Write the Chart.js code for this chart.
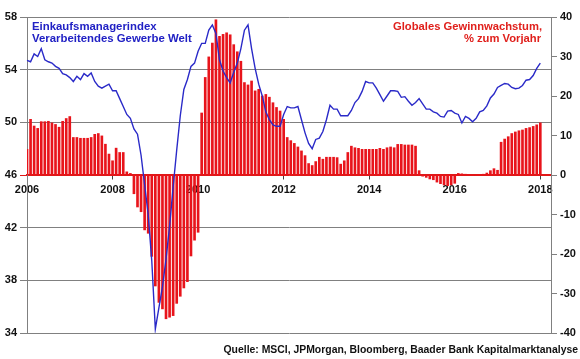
<!DOCTYPE html>
<html>
<head>
<meta charset="utf-8">
<script src="https://cdn.jsdelivr.net/npm/chart.js@4"></script>
<style>
  html, body { margin: 0; padding: 0; background: #fff; }
</style>
</head>
<body>
<canvas id="myChart" width="580" height="359"></canvas>
<script>
// Monatsdaten Jan 2006 bis Jan 2018, Achse reicht bis Apr 2018
var startYear = 2006;
var axisMonths = 148;
var tickYears = [2006, 2008, 2010, 2012, 2014, 2016, 2018];

// Einkaufsmanagerindex Verarbeitendes Gewerbe Welt (linke Achse)
var pmi = [
  54.7, 54.6, 55.2, 55.0, 55.6, 54.75, 54.6, 54.5, 54.25, 54.1, 53.7, 53.6,
  53.4, 53.1, 53.5, 53.25, 53.7, 53.5, 53.75, 53.1, 52.75, 52.6, 52.75, 52.9,
  52.4, 52.4, 51.8, 51.2, 50.6, 50.3, 49.5, 49.1, 47.5, 45.25, 43.0, 39.5,
  34.3, 35.9, 37.5, 39.6, 42.1, 45.1, 47.9, 50.5, 52.5, 53.25, 54.25, 54.5,
  55.4, 56.0, 56.0, 57.0, 57.4, 56.75, 54.75, 53.9, 53.4, 53.0, 53.8, 54.5,
  55.6, 57.0, 57.4, 55.6, 54.1, 52.9, 52.0, 50.8, 50.2, 49.8, 49.7, 49.7,
  50.6, 51.2, 51.1, 51.1, 51.2, 50.2, 49.2, 48.4, 48.0, 48.7, 48.8, 49.3,
  50.2, 51.3, 51.0, 51.0, 50.5, 50.5, 50.5, 50.9, 51.5, 51.8, 52.35, 53.1,
  53.0, 53.0, 52.6, 52.1, 51.6, 52.0, 52.4, 52.4, 52.35, 51.9, 51.95, 51.6,
  51.3, 51.5, 51.8, 51.4, 51.0, 51.0, 50.8, 50.7, 50.45, 50.4, 50.85, 50.9,
  50.7, 50.6, 49.95, 50.45, 50.3, 50.05, 50.3, 50.8, 50.9, 51.25, 51.85, 52.15,
  52.65, 52.8, 52.95, 52.9, 52.65, 52.55, 52.6, 52.8, 53.2, 53.25, 53.55, 54.1,
  54.5
];

// Globales Gewinnwachstum, % zum Vorjahr (rechte Achse)
var gewinn = [
  6.5, 14.1, 12.4, 11.8, 13.5, 13.5, 13.6, 13.2, 12.8, 12.1, 13.6, 14.3,
  14.8, 9.5, 9.5, 9.3, 9.3, 9.3, 9.5, 10.3, 10.5, 9.9, 7.8, 5.3,
  3.6, 6.8, 5.7, 5.7, 0.8, 0.4, -4.75, -8.1, -9.3, -13.9, -14.75, -20.6,
  -28.1, -32.25, -33.9, -36.4, -36.0, -35.6, -32.5, -30.7, -28.6, -27.0, -20.5, -16.5,
  -14.5, 15.7, 24.7, 29.9, 33.4, 39.3, 35.1, 35.6, 36.0, 35.5, 33.0, 31.2,
  28.8, 23.4, 22.8, 23.8, 21.3, 21.7, 20.0, 20.4, 19.7, 18.3, 17.1, 16.2,
  14.1, 9.5, 8.7, 8.0, 7.1, 6.1, 4.9, 2.9, 2.4, 3.4, 4.5, 4.0,
  4.5, 4.5, 4.5, 4.4, 2.75, 3.6, 5.7, 7.3, 6.9, 6.75, 6.5, 6.5,
  6.5, 6.5, 6.5, 6.75, 6.5, 6.9, 7.1, 6.9, 7.75, 7.75, 7.6, 7.6,
  7.6, 7.3, 1.1, -0.3, -0.6, -1.0, -1.2, -1.8, -2.2, -2.5, -2.7, -2.5,
  -2.1, 0.4, 0.3, 0.2, 0.1, -0.1, 0.0, 0.1, 0.2, 0.5, 1.1, 1.6,
  1.2, 8.3, 9.1, 9.7, 10.5, 10.9, 11.2, 11.4, 11.8, 12.0, 12.3, 12.7,
  13.2
];

var labels = [];
for (var i = 0; i < axisMonths; i++) {
  var yr = startYear + Math.floor(i / 12);
  var mo = (i % 12) + 1;
  labels.push(yr + '-' + (mo < 10 ? '0' + mo : mo));
}

var fontFam = '"Liberation Sans", Arial, sans-serif';
var grau = '#808080';

// Schriftgroesse so waehlen, dass der Text die Breite trifft
function fitSize(c, text, width) {
  c.save();
  c.font = 'bold 10px ' + fontFam;
  var size = 10 * width / c.measureText(text).width;
  c.restore();
  return size;
}

function drawText(c, text, x, y, size, color, align) {
  c.save();
  c.font = 'bold ' + size.toFixed(2) + 'px ' + fontFam;
  c.fillStyle = color;
  c.textAlign = align;
  c.textBaseline = 'alphabetic';
  c.fillText(text, x, y);
  c.restore();
}

var textPlugin = {
  id: 'texte',
  afterDraw: function(chart) {
    var c = chart.ctx;
    var blau = fitSize(c, 'Verarbeitendes Gewerbe Welt', 160);
    drawText(c, 'Einkaufsmanagerindex', 32, 30, blau, '#2121c4', 'left');
    drawText(c, 'Verarbeitendes Gewerbe Welt', 32, 42, blau, '#2121c4', 'left');
    var rot = fitSize(c, 'Globales Gewinnwachstum,', 149);
    drawText(c, 'Globales Gewinnwachstum,', 542, 30, rot, '#e0201c', 'right');
    drawText(c, '% zum Vorjahr', 541, 42, rot, '#e0201c', 'right');
    var q = 'Quelle: MSCI, JPMorgan, Bloomberg, Baader Bank Kapitalmarktanalyse';
    drawText(c, q, 578, 353, fitSize(c, q, 355), '#111', 'right');
  }
};

var ctx = document.getElementById('myChart').getContext('2d');
var myChart = new Chart(ctx, {
  type: 'bar',
  data: {
    labels: labels,
    datasets: [{
      type: 'line',
      label: 'Einkaufsmanagerindex',
      data: pmi,
      yAxisID: 'y',
      borderColor: '#2a2ac8',
      borderWidth: 1.4,
      pointRadius: 0,
      tension: 0,
      fill: false,
      order: 0
    }, {
      type: 'bar',
      label: 'Gewinnwachstum',
      data: gewinn,
      yAxisID: 'y1',
      backgroundColor: '#e8141b',
      borderWidth: 0,
      barThickness: 2,
      order: 1
    }]
  },
  options: {
    responsive: false,
    animation: false,
    layout: { padding: { top: 17, bottom: 26, left: 0, right: 0 } },
    plugins: {
      legend: { display: false },
      tooltip: { enabled: false }
    },
    scales: {
      x: {
        type: 'category',
        offset: false,
        position: { y: 46 },
        grid: { offset: false, drawOnChartArea: false, drawTicks: true, tickLength: 4, color: '#404040' },
        border: { display: true, color: '#e01818', width: 1.5 },
        ticks: {
          autoSkip: false,
          maxRotation: 0,
          minRotation: 0,
          padding: 4,
          color: '#111',
          font: { family: fontFam, size: 11, weight: 'bold' },
          callback: function(value) {
            var lab = this.getLabelForValue(value);
            var yr = parseInt(lab.substring(0, 4), 10);
            if (lab.substring(5) === '01' && tickYears.indexOf(yr) >= 0) return String(yr);
            return null;
          }
        }
      },
      y: {
        type: 'linear',
        position: 'left',
        min: 34,
        max: 58,
        ticks: { stepSize: 4, padding: 3, color: '#111', font: { family: fontFam, size: 11, weight: 'bold' } },
        grid: {
          tickLength: 7,
          color: function(c) { return c.tick && c.tick.value === 46 ? '#e01818' : grau; }
        },
        border: { color: grau },
        afterFit: function(s) { s.width = 27; }
      },
      y1: {
        type: 'linear',
        position: 'right',
        min: -40,
        max: 40,
        ticks: { stepSize: 10, padding: 3, color: '#111', font: { family: fontFam, size: 11, weight: 'bold' } },
        grid: { drawOnChartArea: false, tickLength: 6, color: grau },
        border: { color: grau },
        afterFit: function(s) { s.width = 29; }
      }
    }
  },
  plugins: [textPlugin]
});
</script>
</body>
</html>
